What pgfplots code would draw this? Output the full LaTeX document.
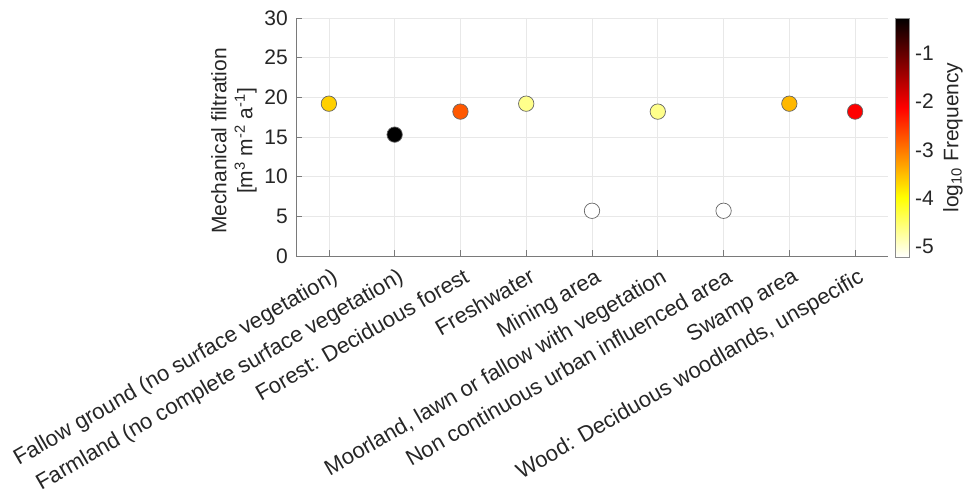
\documentclass[border=0pt]{standalone}
\usepackage{pgfplots}
\pgfplotsset{compat=1.18}
\usepackage{fontspec}
\setmainfont{Liberation Sans}
\definecolor{txt}{HTML}{262626}
\definecolor{gridc}{HTML}{E8E8E8}
\definecolor{axc}{HTML}{7A7A7A}

\pgfplotstableread{
x y m
1 19.2 -3.64
2 15.3 -0.28
3 18.2 -2.77
4 19.2 -4.65
5 5.7 -5.21
6 18.2 -4.65
7 5.7 -5.21
8 19.2 -3.46
9 18.2 -2.12
}\datatab

\begin{document}
\begin{tikzpicture}
\begin{axis}[
  at={(296pt,236pt)}, anchor=south west,
  scale only axis, width=592pt, height=238pt,
  xmin=0.5, xmax=9.5, ymin=0, ymax=30,
  xtick={1,...,9},
  xticklabels={{Fallow ground (no surface vegetation)},{Farmland (no complete surface vegetation)},{Forest: Deciduous forest},{Freshwater},{Mining area},{Moorland, lawn or fallow with vegetation},{Non continuous urban influenced area},{Swamp area},{Wood: Deciduous woodlands, unspecific}},
  ytick={0,5,...,30},
  /pgf/number format/assume math mode=true,
  axis x line*=bottom, axis y line*=left,
  axis line style={draw=axc, line width=0.7pt, -},
  tick align=inside, major tick length=6pt,
  tick style={draw=axc, line width=0.7pt},
  grid=major, grid style={draw=gridc, line width=0.6pt},
  xticklabel style={font=\fontsize{22}{22}\selectfont, text=txt, inner sep=0pt, xshift=2pt, yshift=-11pt, rotate=30, anchor=north east},
  yticklabel style={font=\fontsize{21}{21}\selectfont, text=txt, inner sep=0pt, anchor=east, xshift=-8pt},
  ylabel={Mechanical filtration\\\relax{[}m\textsuperscript{3} m\textsuperscript{-2} a\textsuperscript{-1}]},
  every axis y label/.style={at={(axis description cs:0,0.5)}, xshift=-39pt, yshift=-4pt, rotate=90, anchor=south, align=center, inner sep=0pt, font=\fontsize{21}{26}\selectfont, text=txt},
  colormap={hotr}{rgb(0cm)=(1,1,1); rgb(2cm)=(1,1,0); rgb(5cm)=(1,0,0); rgb(8cm)=(0,0,0)},
  point meta min=-5.21, point meta max=-0.28,
  colorbar,
  colorbar style={
    at={(parent axis.north east)}, anchor=north west, xshift=-1.5pt,
    scale only axis, width=14pt, height=239pt,
    ytick={-5,-4,-3,-2,-1},
    yticklabels={-5,-4,-3,-2,-1},
    yticklabel pos=right,
    major tick length=0pt,
    axis line style={draw=black!45, line width=0.6pt},
    yticklabel style={font=\fontsize{21}{21}\selectfont, text=txt, anchor=west, inner sep=0pt, xshift=6pt},
    ylabel={log\textsubscript{10} Frequency},
    every axis y label/.style={at={(axis description cs:1,0.5)}, xshift=34pt, rotate=90, anchor=north, inner sep=0pt, font=\fontsize{21}{21}\selectfont, text=txt},
  },
]
\addplot[scatter, only marks, mark=*, scatter src=explicit, mark size=7.7pt,
  mark options={line width=0.7pt},
  scatter/use mapped color={draw=black!60, fill=mapped color}]
  table[x=x, y=y, meta=m] {\datatab};
\end{axis}
\pgfresetboundingbox
\path[use as bounding box] (0,0) rectangle (963pt,492pt);
\end{tikzpicture}
\end{document}
